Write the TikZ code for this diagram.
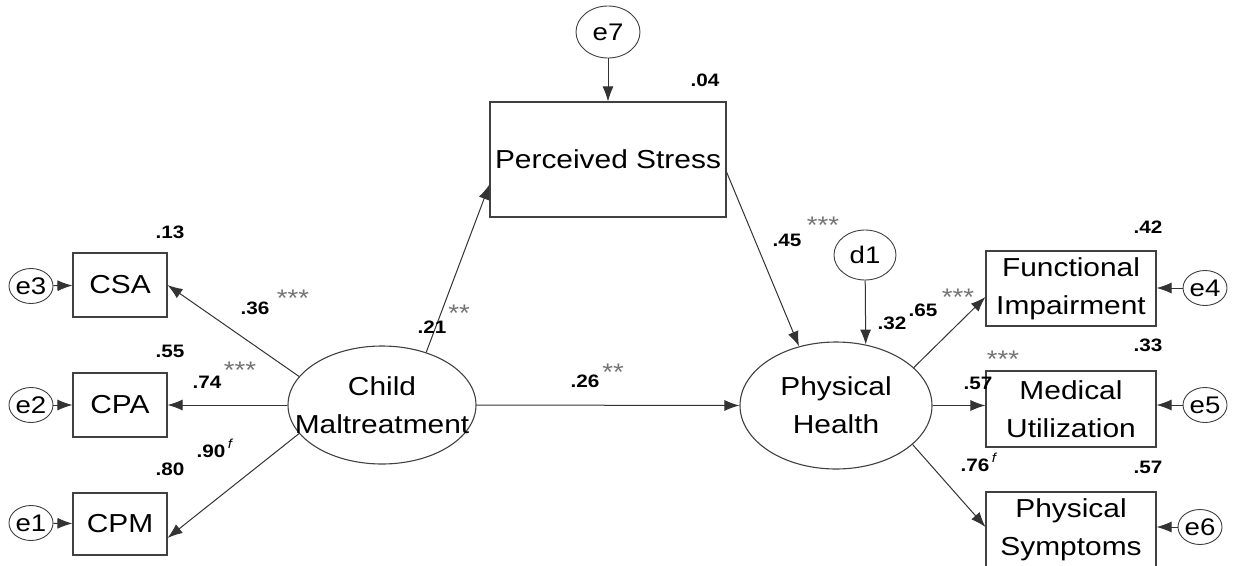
\documentclass[tikz,border=0pt]{standalone}
\usepackage{fontspec}
\setmainfont{Liberation Sans}[FakeStretch=1.15]
\usetikzlibrary{arrows.meta,shapes.geometric}
\begin{document}
\begin{tikzpicture}[x=1pt,y=-1pt,
  obs/.style={draw=black!75, line width=1.1pt, rectangle, inner sep=0pt, align=center,
              font=\fontsize{26}{38}\selectfont},
  lat/.style={draw=black!75, line width=1.1pt, ellipse, inner xsep=-30pt, inner ysep=0pt,
              align=center, font=\fontsize{26}{38}\selectfont},
  err/.style={draw=black!75, line width=0.9pt, ellipse, inner sep=0pt,
              minimum width=44pt, minimum height=35pt, font=\fontsize{24}{28}\selectfont},
  arr/.style={draw=black!80, line width=1pt, -{Latex[length=15pt,width=11pt]}},
  coef/.style={inner sep=0pt, font=\bfseries\fontsize{18}{20}\selectfont},
  sig/.style={inner sep=0pt, text=black!55, font=\fontsize{24}{24}\selectfont},
  fsup/.style={inner sep=0pt, font=\itshape\fontsize{13}{13}\selectfont}
]
\useasboundingbox (0,0) rectangle (1236,565);

% indicators of child maltreatment
\node[obs, minimum width=94pt, minimum height=64pt] (csa) at (120,285) {CSA};
\node[obs, minimum width=94pt, minimum height=64pt] (cpa) at (120,405) {CPA};
\node[obs, minimum width=94pt, minimum height=62pt] (cpm) at (120,524) {CPM};
\node[err] (e3) at (31,286) {e3};
\node[err] (e2) at (31,405) {e2};
\node[err] (e1) at (31,523) {e1};

% latent variables
\node[lat, minimum width=188pt, minimum height=118pt] (child) at (382,405) {Child\\Maltreatment};
\node[lat, minimum width=192pt, minimum height=127pt] (ph) at (836,405.5) {Physical\\Health};

% mediator
\node[obs, minimum width=236pt, minimum height=115pt] (ps) at (608,159.5) {Perceived Stress};
\node[err, minimum width=64pt, minimum height=52pt] (e7) at (608,32) {e7};
\node[err, minimum width=62pt, minimum height=50pt] (d1) at (865,255) {d1};

% indicators of physical health
\node[obs, minimum width=170pt, minimum height=75pt] (fi) at (1071,288.5) {Functional\\Impairment};
\node[obs, minimum width=170pt, minimum height=76pt] (mu) at (1071,409) {Medical\\Utilization};
\node[obs, minimum width=170pt, minimum height=76pt] (psym) at (1071,530) {Physical\\Symptoms};
\node[err] (e4) at (1205,288) {e4};
\node[err] (e5) at (1205,405) {e5};
\node[err] (e6) at (1200,527) {e6};

% paths
\draw[arr] (e3) -- (csa);
\draw[arr] (e2) -- (cpa);
\draw[arr] (e1) -- (cpm);
\draw[arr] (child.161) -- (csa.east);
\draw[arr] (child.west) -- (cpa.east);
\draw[arr] (child.199) -- ([yshift=-14pt]cpm.east);
\draw[arr] (child.50) -- ([yshift=-25pt]ps.west);
\draw[arr] (ps.east |- 0,172) -- (ph.122);
\draw[arr] (e7) -- (ps.north);
\draw[arr] (d1) -- (ph.64);
\draw[arr] (child.east) -- (ph.west);
\draw[arr] (ph.26) -- ([yshift=-8.5pt]fi.west);
\draw[arr] (ph.east) -- (ph.east -| mu.west);
\draw[arr] (ph.-27.5) -- ([yshift=3pt]psym.west);
\draw[arr] (e4) -- (e4 -| fi.east);
\draw[arr] (e5) -- (e5 -| mu.east);
\draw[arr] (e6) -- (e6 -| psym.east);

% estimates
\node[coef] (r13) at (170,232) {.13};
\node[coef] (r55) at (170,351) {.55};
\node[coef] (r80) at (170,469) {.80};
\node[coef] (l90) at (211,451) {.90};
\node[fsup] (f90) at (230,444) {f};
\node[coef] (l36) at (255,308) {.36};
\node[sig] (s36) at (293,298) {***};
\node[coef] (l74) at (207,382) {.74};
\node[sig] (s74) at (240,370) {***};
\node[coef] (l21) at (432,327) {.21};
\node[sig] (s21) at (459,313) {**};
\node[coef] (l26) at (585,381) {.26};
\node[sig] (s26) at (613,372) {**};
\node[coef] (r04) at (705,80) {.04};
\node[coef] (l45) at (787,240) {.45};
\node[sig] (s45) at (823,225) {***};
\node[coef] (r32) at (892,323) {.32};
\node[coef] (l65) at (923,310) {.65};
\node[sig] (s65) at (958,297) {***};
\node[coef] (r42) at (1148,227) {.42};
\node[coef] (r33) at (1148,345) {.33};
\node[coef] (r57) at (1148,467) {.57};
\node[sig] (s57) at (1003,359) {***};
\node[coef] (l57) at (978,383) {.57};
\node[coef] (l76) at (975,465) {.76};
\node[fsup] (f76) at (994,458) {f};
\end{tikzpicture}
\end{document}
